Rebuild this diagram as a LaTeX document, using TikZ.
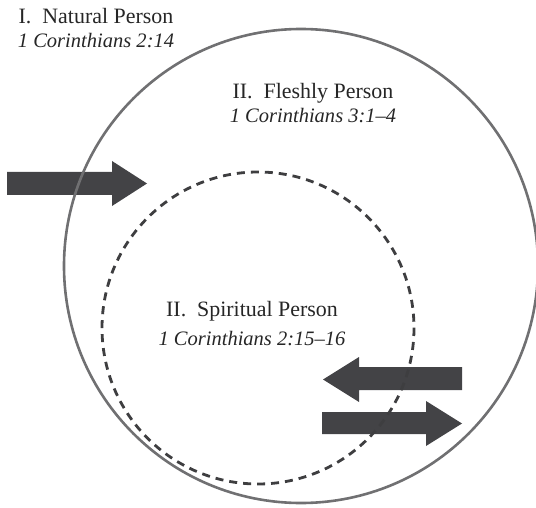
\documentclass[tikz,border=0pt]{standalone}
\usepackage{fontspec}
\setmainfont{Liberation Serif}
\definecolor{ringgray}{HTML}{707072}
\definecolor{arrowgray}{HTML}{434346}
\definecolor{dashgray}{HTML}{3E3E40}
\newcommand{\scripref}[1]{{\fontsize{20.6}{25}\selectfont\itshape #1}}
\tikzset{
  person/.style={align=center, inner sep=0pt, anchor=base, text=black!85,
    font=\fontsize{22}{25}\selectfont},
  blockarrow/.style={fill=arrowgray},
  outerring/.style={draw=ringgray, line width=2.6bp},
  innerring/.style={draw=dashgray, line width=2.8bp, dash pattern=on 8bp off 6bp}
}
\begin{document}
\begin{tikzpicture}[x=1bp, y=-1bp]
\useasboundingbox (0,0) rectangle (536,508);

\fill[blockarrow] (7,172) -- (112,172) -- (112,161) -- (147,183.5) -- (112,206) -- (112,195) -- (7,195) -- cycle;
\fill[blockarrow] (462,367) -- (359,367) -- (359,357) -- (323,379.5) -- (359,402) -- (359,390) -- (462,390) -- cycle;
\fill[blockarrow] (322,412) -- (426,412) -- (426,401) -- (462,423.5) -- (426,446) -- (426,434) -- (322,434) -- cycle;

\draw[outerring] (301,266) circle[radius=237];
\draw[innerring] (258,328) circle[radius=156];

\node[person] (natural) at (96,48) {I.\ \ Natural Person\\ \scripref{1 Corinthians 2:14}};
\node[person] (fleshly) at (313,123) {II.\ \ Fleshly Person\\ \scripref{1 Corinthians 3:1--4}};
\node[person] (spiritual) at (252,345) {II.\ \ Spiritual Person\\[4bp] \scripref{1 Corinthians 2:15--16}};

\end{tikzpicture}
\end{document}
